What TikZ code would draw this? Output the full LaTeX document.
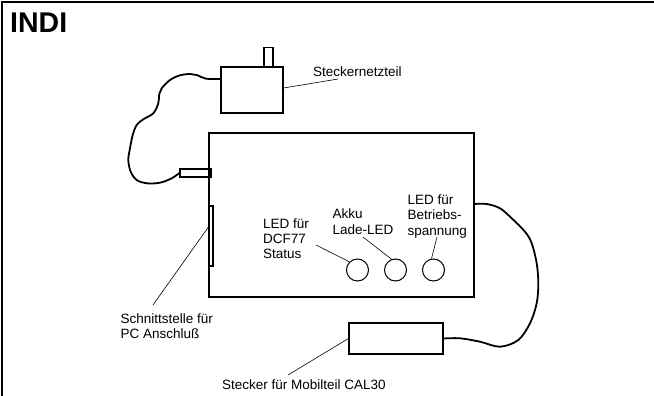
\documentclass[tikz,border=0pt]{standalone}
\usepackage{fontspec}
\setmainfont{Liberation Sans}
\usetikzlibrary{positioning}

\begin{document}
\begin{tikzpicture}[
  x=1pt, y=-1pt,
  font=\fontsize{13.5}{15.3}\selectfont,
  part/.style={draw, line width=1.1pt, inner sep=0pt},
  led/.style={circle, draw, line width=1pt, minimum size=22pt, inner sep=0pt},
  cable/.style={line width=1.8pt, line join=round, line cap=round},
  lead/.style={line width=0.6pt},
  lbl/.style={anchor=north west, inner sep=0pt, align=left},
]
\useasboundingbox (0,0) rectangle (654,396);
% ---------------- frame and title ----------------
\draw[line width=2pt] (2,396) -- (2,2) -- (654,2);
\node[anchor=base west, inner sep=0pt, font=\fontsize{28.5}{30}\selectfont\bfseries] (title) at (10,33) {INDI};
% ---------------- parts ----------------
\node[part, minimum width=62pt, minimum height=46pt] (netz) at (252,90) {};
\node[part, minimum width=9pt, minimum height=19.5pt] (netzstift) at (268.5,57.5) {};
\node[part, minimum width=265pt, minimum height=164pt] (indi) at (341.5,215) {};
\node[part, minimum width=31pt, minimum height=8pt] (buchse) at (195.5,173) {};
\node[part, minimum width=4pt, minimum height=60pt] (pcport) at (211,236) {};
\foreach \i/\x in {1/357.5, 2/395.5, 3/433.5}
  \node[led] (led\i) at (\x,270) {};
\node[part, minimum width=94pt, minimum height=31pt] (mobil) at (396,338.5) {};
% ---------------- cables ----------------
\draw[cable] plot[smooth, tension=0.55] coordinates {([yshift=11pt]netz.west) (206,78.7)
  (196.7,75) (190,74) (180,75.3) (170,80) (161.7,88.3) (159.3,94) (158.3,103.3)
  (153.3,113.3) (143.3,119.3) (136.7,125) (132.7,135) (130,148.3) (128.3,160)
  (130.7,171.7) (136.7,180) (146.7,183.3) (160,182.7) (171.7,178.3) (buchse.west)};
\draw[cable] plot[smooth, tension=0.55] coordinates {([yshift=11pt]indi.east) (486.7,204)
  (500,208.3) (511.7,218.3) (525,231.7) (531.7,243.3) (536.7,263.3) (538.3,283.3)
  (536.7,303.3) (530,323.3) (518.3,340) (500,346.7) (480,341.7) (460,338.3) (mobil.east)};
% ---------------- labels ----------------
\node[lbl] (netzlbl) at (313,66.6) {Steckernetzteil};
\node[lbl] (pclbl) at (120.5,313.3) {Schnittstelle für\\PC Anschluß};
\node[lbl] (dcflbl) at (263,218.3) {LED für\\DCF77\\Status};
\node[lbl] (akkulbl) at (332.5,208.8) {Akku\\Lade-LED};
\node[lbl] (betrlbl) at (407.5,194.6) {LED für\\Betriebs-\\spannung};
\node[lbl] (mobillbl) at (222,380) {Stecker für Mobilteil CAL30};
% leader ends next to the labels
\coordinate (netztip) at (338,79);
\coordinate (pctip) at (153,305);
\coordinate (dcftip) at (316,245);
\coordinate (akkutip) at (363,237);
\coordinate (betrtip) at (437,237);
\coordinate (mobiltip) at (288,375);
% ---------------- leaders ----------------
\draw[lead] ([yshift=2pt]netz.east) -- (netztip);
\draw[lead] ([yshift=9pt]pcport.west) -- (pctip);
\draw[lead] (dcftip) -- (led1.135);
\draw[lead] (akkutip) -- (led2.110);
\draw[lead] (betrtip) -- (led3.100);
\draw[lead] (mobil.west) -- (mobiltip);
\end{tikzpicture}
\end{document}
